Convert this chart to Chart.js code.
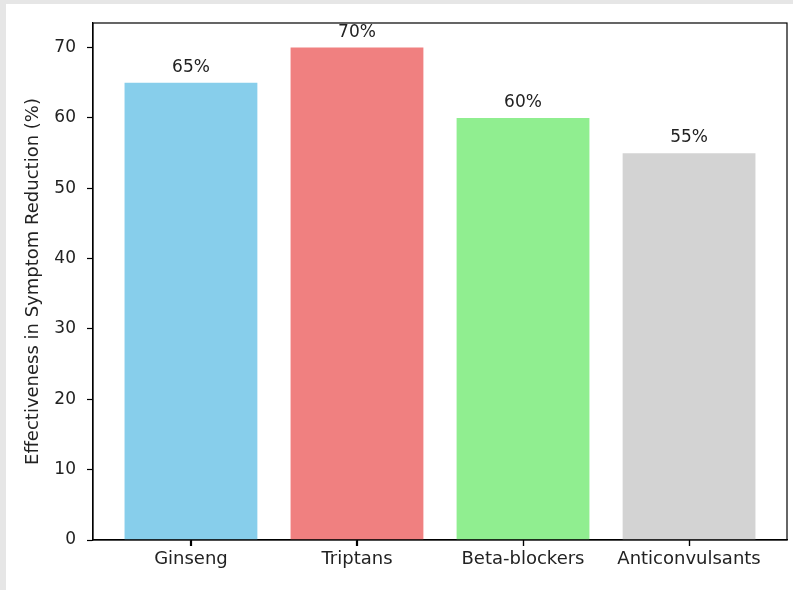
<!DOCTYPE html>
<html>
<head>
<meta charset="utf-8">
<script src="https://cdn.jsdelivr.net/npm/chart.js@4.4.1/dist/chart.umd.min.js"></script>
<style>
  html, body { margin: 0; padding: 0; background: #e6e6e6; }
  body { width: 793px; height: 590px; position: relative; overflow: hidden; }
  #wrap { position: absolute; left: 6px; top: 4px; width: 787px; height: 586px; background: #fff; }
</style>
</head>
<body>
<div id="wrap"><canvas id="chart"></canvas></div>
<script>
// data
const categories = ['Ginseng', 'Triptans', 'Beta-blockers', 'Anticonvulsants'];
const effectiveness = [65, 70, 60, 55];
const barColors = ['#87ceeb', '#f08080', '#90ee90', '#d3d3d3'];
const yTicks = [0, 10, 20, 30, 40, 50, 60, 70];

const FONT = "'DejaVu Sans', sans-serif";
const TEXT = '#222';

// percent labels above each bar
const valueLabels = {
  id: 'valueLabels',
  afterDatasetsDraw(chart) {
    const ctx = chart.ctx;
    const yScale = chart.scales.y;
    const meta = chart.getDatasetMeta(0);
    ctx.save();
    ctx.font = '17px ' + FONT;
    ctx.fillStyle = TEXT;
    ctx.textAlign = 'center';
    ctx.textBaseline = 'alphabetic';
    meta.data.forEach((bar, i) => {
      const v = effectiveness[i];
      ctx.fillText(v + '%', bar.x, yScale.getPixelForValue(v + 1) - 4);
    });
    ctx.restore();
  }
};

// black frame round the plot area + x tick marks under each category
const frame = {
  id: 'frame',
  afterDraw(chart) {
    const a = chart.chartArea;
    const ctx = chart.ctx;
    const xScale = chart.scales.x;
    ctx.save();
    ctx.strokeStyle = '#000';
    ctx.lineWidth = 1.2;
    ctx.strokeRect(a.left, a.top, a.right - a.left, a.bottom - a.top);
    ctx.beginPath();
    categories.forEach((c, i) => {
      const px = Math.round(xScale.getPixelForValue(i)) + 0.5;
      ctx.moveTo(px, a.bottom);
      ctx.lineTo(px, a.bottom + 6);
    });
    ctx.stroke();
    ctx.restore();
  }
};

new Chart(document.getElementById('chart'), {
  type: 'bar',
  data: {
    datasets: [{
      data: effectiveness.map((v, i) => ({ x: i, y: v })),
      backgroundColor: barColors,
      borderWidth: 0,
      barPercentage: 0.8,
      categoryPercentage: 1.0
    }]
  },
  options: {
    responsive: true,
    maintainAspectRatio: false,
    animation: false,
    layout: { padding: { top: 19, right: 6, left: 0, bottom: 0 } },
    plugins: { legend: { display: false }, tooltip: { enabled: false } },
    scales: {
      x: {
        type: 'linear',
        offset: false,
        min: -0.59,
        max: 3.59,
        afterBuildTicks: (s) => { s.ticks = categories.map((c, i) => ({ value: i })); },
        afterFit: (s) => { s.height = 50; s.paddingLeft = 0; s.paddingRight = 0; },
        ticks: {
          callback: (v) => categories[v],
          font: { family: FONT, size: 18 },
          color: TEXT,
          padding: 3,
          maxRotation: 0,
          autoSkip: false
        },
        grid: { offset: false, drawOnChartArea: false, tickLength: 6, tickColor: '#000', tickWidth: 1.2 },
        border: { display: true, color: '#000', width: 1.2 }
      },
      y: {
        min: 0,
        max: 73.5,
        afterBuildTicks: (s) => { s.ticks = yTicks.map(v => ({ value: v })); },
        afterFit: (s) => { s.width = 87; s.paddingTop = 0; s.paddingBottom = 0; },
        ticks: {
          font: { family: FONT, size: 17 },
          color: TEXT,
          padding: 11
        },
        grid: { drawOnChartArea: false, tickLength: 6, tickColor: '#000', tickWidth: 1.2 },
        border: { display: true, color: '#000', width: 1.2 },
        title: {
          display: true,
          text: 'Effectiveness in Symptom Reduction (%)',
          font: { family: FONT, size: 18 },
          color: TEXT,
          padding: { top: 17, bottom: 0 }
        }
      }
    }
  },
  plugins: [valueLabels, frame]
});
</script>
</body>
</html>
